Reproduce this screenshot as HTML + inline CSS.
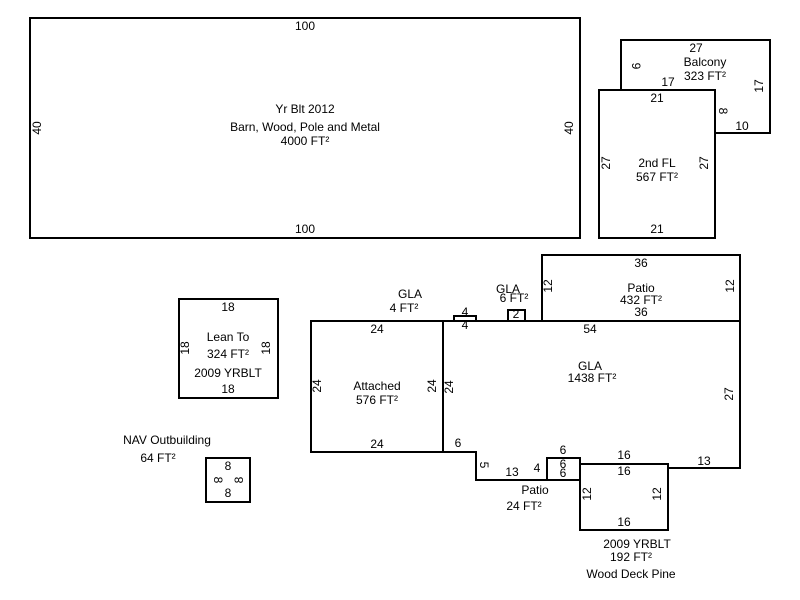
<!DOCTYPE html>
<html><head><style>html,body{margin:0;padding:0;background:#fff}svg{display:block}text{font-family:"Liberation Sans",sans-serif;font-size:12px;fill:#000}</style></head>
<body>
<svg width="800" height="600" viewBox="0 0 800 600" xmlns="http://www.w3.org/2000/svg">
<g fill="none" stroke="#000" stroke-width="2">
<rect x="30" y="18" width="550" height="220"/>
<polyline points="621,90 621,40 770,40 770,133 715,133"/>
<rect x="599" y="90" width="116" height="148"/>
<rect x="542" y="255" width="198" height="66"/>
<rect x="179" y="299" width="99" height="99"/>
<rect x="311" y="321" width="132" height="131"/>
<rect x="206" y="458" width="44" height="44"/>
<rect x="454" y="316" width="22" height="5"/>
<rect x="508" y="310" width="17" height="11"/>
<polyline points="443,321 740,321 740,468 668,468"/>
<polyline points="443,452 476,452 476,480 547,480"/>
<rect x="547" y="458" width="33" height="22"/>
<rect x="580" y="464" width="88" height="66"/>
</g>
<g text-anchor="middle">
<text x="305" y="30">100</text><text x="305" y="233">100</text>
<text x="305" y="113">Yr Blt 2012</text><text x="305" y="131">Barn, Wood, Pole and Metal</text><text x="305" y="145">4000 FT²</text>
<text transform="translate(41,128) rotate(-90)">40</text><text transform="translate(573,128) rotate(-90)">40</text>
<text x="696" y="52">27</text><text x="705" y="66">Balcony</text><text x="705" y="80">323 FT²</text>
<text x="668" y="86">17</text><text x="742" y="130">10</text>
<text transform="translate(632,66) rotate(90)">9</text><text transform="translate(763,86) rotate(-90)">17</text>
<text transform="translate(719,111) rotate(90)">8</text>
<text x="657" y="102">21</text><text x="657" y="233">21</text>
<text x="657" y="167">2nd FL</text><text x="657" y="181">567 FT²</text>
<text transform="translate(610,163) rotate(-90)">27</text><text transform="translate(708,163) rotate(-90)">27</text>
<text x="641" y="267">36</text><text x="641" y="292">Patio</text><text x="641" y="304">432 FT²</text><text x="641" y="316">36</text>
<text transform="translate(552,286) rotate(-90)">12</text><text transform="translate(734,286) rotate(-90)">12</text>
<text x="228" y="311">18</text><text x="228" y="341">Lean To</text><text x="228" y="358">324 FT²</text><text x="228" y="377">2009 YRBLT</text><text x="228" y="393">18</text>
<text transform="translate(189,348) rotate(-90)">18</text><text transform="translate(270,348) rotate(-90)">18</text>
<text x="377" y="333">24</text><text x="377" y="390">Attached</text><text x="377" y="404">576 FT²</text><text x="377" y="448">24</text>
<text transform="translate(321,386) rotate(-90)">24</text><text transform="translate(436,386) rotate(-90)">24</text>
<text x="410" y="298">GLA</text><text x="404" y="312">4 FT²</text>
<text x="508" y="293">GLA</text><text x="514" y="302">6 FT²</text>
<text x="465" y="316" font-size="10">4</text><text x="465" y="329" font-size="10">4</text>
<text x="516" y="318" font-size="9">2</text>
<text x="590" y="333">54</text><text x="590" y="370">GLA</text><text x="592" y="382">1438 FT²</text>
<text transform="translate(453,387) rotate(-90)">24</text><text transform="translate(733,394) rotate(-90)">27</text>
<text x="458" y="447">6</text><text transform="translate(480,465) rotate(90)">5</text>
<text x="512" y="476">13</text><text x="535" y="494">Patio</text><text x="524" y="510">24 FT²</text>
<text x="537" y="472">4</text><text x="563" y="454">6</text><text x="563" y="468" font-size="11">6</text><text x="563" y="477" font-size="11">6</text>
<text x="624" y="459">16</text><text x="624" y="475">16</text><text x="624" y="526">16</text>
<text x="704" y="465">13</text>
<text transform="translate(591,494) rotate(-90)">12</text><text transform="translate(661,494) rotate(-90)">12</text>
<text x="637" y="548">2009 YRBLT</text><text x="631" y="561">192 FT²</text><text x="631" y="578">Wood Deck Pine</text>
<text x="167" y="444">NAV Outbuilding</text><text x="158" y="462">64 FT²</text>
<text x="228" y="470">8</text><text x="228" y="497">8</text>
<text transform="translate(214,480) rotate(90)">8</text><text transform="translate(243,480) rotate(-90)">8</text>
</g>
</svg>
</body></html>
